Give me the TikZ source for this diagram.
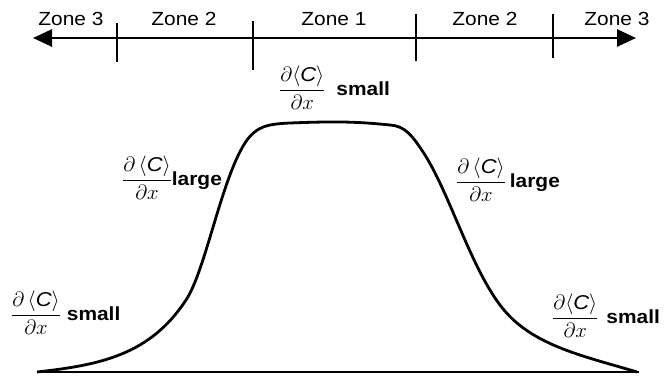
\documentclass[tikz,border=0pt]{standalone}
\usepackage{fontspec}
\setmainfont{Liberation Sans}[FakeStretch=1.1]
\usetikzlibrary{arrows.meta}
\newcommand{\dcdx}[1][]{{\fontsize{20}{24}\selectfont$\displaystyle\frac{\partial#1\langle\textnormal{\itshape C}\rangle}{\partial x}$}}
\tikzset{
  zone/.style={font=\fontsize{19}{22}\selectfont, inner sep=0pt},
  lbl/.style={font=\fontsize{19}{22}\selectfont\bfseries, inner sep=0pt, anchor=west},
  thick3/.style={line width=2.8pt},
}
\begin{document}
\begin{tikzpicture}[x=1pt,y=-1pt]
\useasboundingbox (0,0) rectangle (667,377);
% axis
\coordinate (L) at (33,38);
\coordinate (R) at (636,38);
\draw[thick3, {Triangle[length=19pt,width=17pt]}-{Triangle[length=19pt,width=17pt]}] (L) -- (R);
% ticks
\coordinate (t1a) at (117,23); \coordinate (t1b) at (117,62);
\coordinate (t2a) at (253,21); \coordinate (t2b) at (253,70);
\coordinate (t3a) at (416,14); \coordinate (t3b) at (416,61);
\coordinate (t4a) at (553,14); \coordinate (t4b) at (553,58);
\draw[thick3] (t1a) -- (t1b);
\draw[thick3] (t2a) -- (t2b);
\draw[thick3] (t3a) -- (t3b);
\draw[thick3] (t4a) -- (t4b);
% zone labels
\node[zone] (z3l) at (71,19) {Zone 3};
\node[zone] (z2l) at (184,19) {Zone 2};
\node[zone] (z1) at (334,19) {Zone 1};
\node[zone] (z2r) at (485,19) {Zone 2};
\node[zone] (z3r) at (617,19) {Zone 3};
% baseline
\coordinate (b0) at (37,372);
\coordinate (b1) at (639,372);
\draw[thick3] (b0) -- (b1);
% curve
\draw[thick3, line join=round]
  (37,372) .. controls (100,365) and (150,355) .. (186,300)
  .. controls (206,270) and (222,175) .. (247,140)
  .. controls (257,127) and (266,124) .. (290,123)
  .. controls (340,121) and (360,122) .. (390,125)
  .. controls (405,126) and (412,135) .. (425,155)
  .. controls (450,195) and (470,265) .. (500,305)
  .. controls (530,345) and (580,355) .. (637,372);
% labels
\node[lbl] (top) at (279,88) {\dcdx\hspace{11pt}small};
\node[lbl] (ll) at (122,178) {\dcdx[\,]large};
\node[lbl] (rl) at (456,180) {\dcdx[\,]\hspace{4pt}large};
\node[lbl] (bl) at (11,313) {\dcdx[\,]\hspace{6pt}small};
\node[lbl] (br) at (552,316) {\dcdx\hspace{8pt}small};
\end{tikzpicture}
\end{document}
